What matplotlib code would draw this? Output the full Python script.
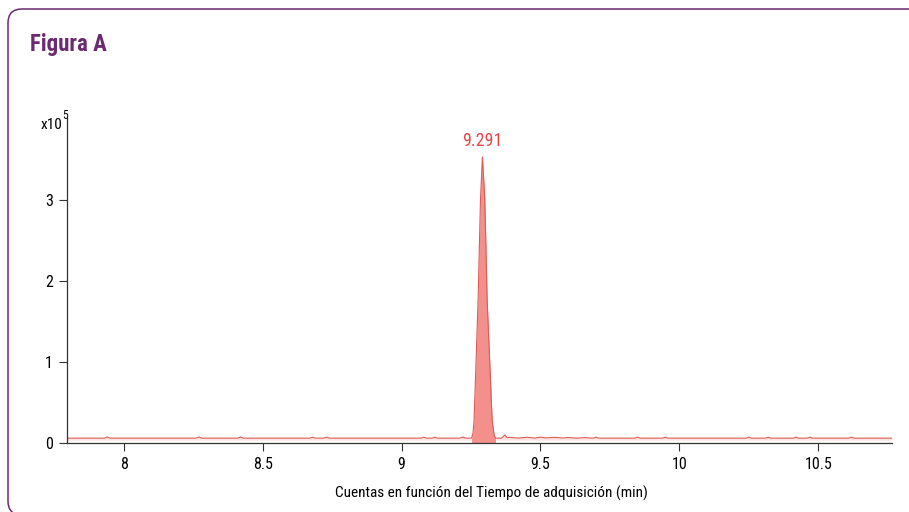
import matplotlib
matplotlib.use("Agg")
import matplotlib.pyplot as plt
from matplotlib.patches import FancyBboxPatch
import numpy as np

plt.rcParams['font.family'] = ['Roboto Condensed', 'DejaVu Sans']

# retention time (min) and counts (x10^5)
rt = [7.795, 7.93, 7.94, 7.95, 8.26, 8.27, 8.28, 8.41, 8.42, 8.43,
      8.67, 8.68, 8.69, 8.72, 8.73, 8.74, 9.07, 9.08, 9.09, 9.11,
      9.12, 9.13, 9.21, 9.22, 9.23, 9.252, 9.257, 9.261, 9.2755, 9.284,
      9.291, 9.2996, 9.308, 9.326, 9.333, 9.338, 9.36, 9.372, 9.38, 9.39,
      9.42, 9.45, 9.48, 9.5, 9.52, 9.55, 9.58, 9.6, 9.63, 9.66,
      9.69, 9.70, 9.71, 9.84, 9.85, 9.86, 9.94, 9.95, 9.96, 10.24,
      10.25, 10.26, 10.31, 10.32, 10.33, 10.41, 10.42, 10.43, 10.46, 10.47,
      10.48, 10.61, 10.62, 10.63, 10.77]
counts = [0.06, 0.06, 0.075, 0.06, 0.06, 0.075, 0.06, 0.06, 0.075, 0.06,
          0.06, 0.072, 0.06, 0.06, 0.072, 0.06, 0.06, 0.072, 0.06, 0.06,
          0.072, 0.06, 0.06, 0.075, 0.06, 0.06, 0.12, 0.28, 1.77, 3.0,
          3.53, 3.0, 1.77, 0.28, 0.1, 0.06, 0.06, 0.1, 0.065, 0.07,
          0.06, 0.07, 0.062, 0.072, 0.063, 0.07, 0.062, 0.068, 0.06, 0.066,
          0.06, 0.072, 0.06, 0.06, 0.072, 0.06, 0.06, 0.072, 0.06, 0.06,
          0.072, 0.06, 0.06, 0.072, 0.06, 0.06, 0.072, 0.06, 0.06, 0.072,
          0.06, 0.06, 0.072, 0.06, 0.06]
peak_rt = 9.291
peak_label = "9.291"
peak_start, peak_end = 9.25, 9.338
xticks = [8, 8.5, 9, 9.5, 10, 10.5]
xlabels = ["8", "8.5", "9", "9.5", "10", "10.5"]
yticks = [0, 1, 2, 3]

rt_a = np.array(rt)
counts_a = np.array(counts)

fig = plt.figure(figsize=(9.09, 5.12), dpi=100)
ax = fig.add_axes([67/909, 1-443/512, (892-67)/909, (443-118)/512])

# light halo under the baseline, integrated peak in salmon
ax.fill_between(rt_a, counts_a, 0.035, color='#fbe3e1', lw=0)
inpk = (rt_a >= peak_start) & (rt_a <= peak_end)
ax.fill_between(rt_a[inpk], counts_a[inpk], 0, color='#f3908c', lw=0)
ax.plot(rt_a, counts_a, color='#dd5a55', lw=0.8)

ax.set_xlim(7.795, 10.766)
ax.set_ylim(0, 4.01)
ax.set_xticks(xticks)
ax.set_xticklabels(xlabels)
ax.set_yticks(yticks)
ax.tick_params(direction='out', length=6, width=0.8, color='#333333',
               labelsize=11.5, pad=4)
for s in ['top', 'right']:
    ax.spines[s].set_visible(False)
for s in ['left', 'bottom']:
    ax.spines[s].set_color('#333333')
    ax.spines[s].set_linewidth(0.9)

ax.text(peak_rt, 3.62, peak_label, color='#e8474c', fontsize=13,
        ha='center', va='bottom')
ax.text(-0.006, 1.0, "x10", transform=ax.transAxes, ha='right', va='top',
        fontsize=11)
ax.text(-0.006, 1.028, "5", transform=ax.transAxes, ha='left', va='top',
        fontsize=8.5)

fig.text(491/909, 1-493/512, "Cuentas en función del Tiempo de adquisición (min)",
         ha='center', va='center', fontsize=11)
fig.text(30/909, 1-45/512, "Figura A", color='#6b2a72', fontsize=16.5,
         fontweight='bold', ha='left', va='center')

box = FancyBboxPatch((8, -3), 1000, 506, boxstyle="round,pad=0,rounding_size=14",
                     fill=False, ec='#6b2a72', lw=1.1, transform=None)
fig.add_artist(box)

fig.savefig("out.png", dpi=100)
